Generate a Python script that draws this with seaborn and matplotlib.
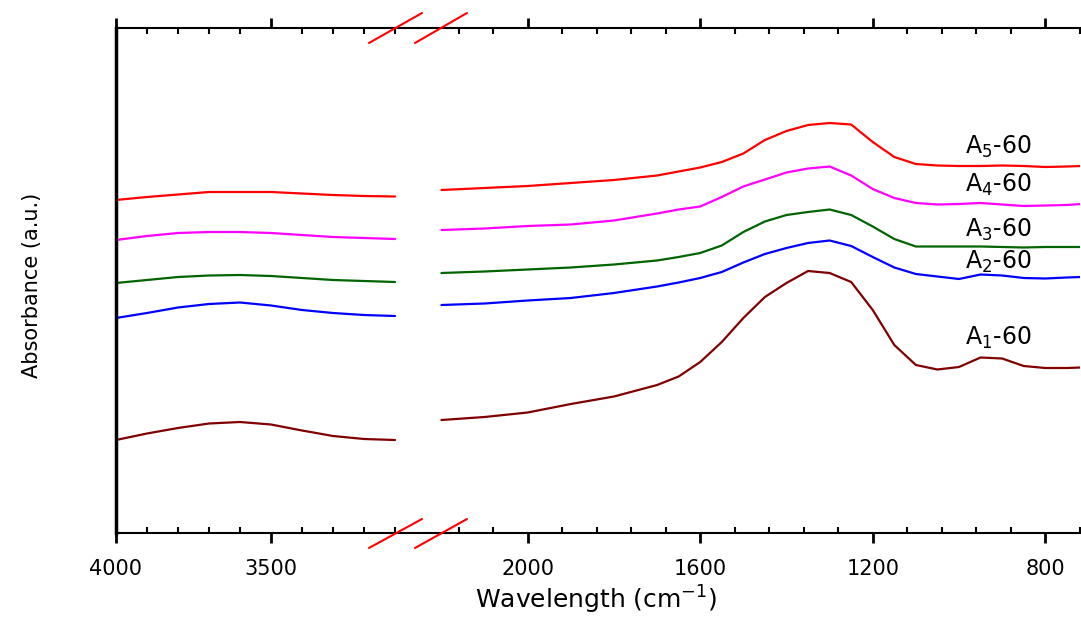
import numpy as np
import pandas as pd
import matplotlib
matplotlib.use('Agg')
from matplotlib import pyplot as plt
from matplotlib.lines import Line2D
from matplotlib.ticker import FixedLocator
import seaborn as sns

# samples and colours (bottom to top)
samples = ['A1-60', 'A2-60', 'A3-60', 'A4-60', 'A5-60']
labels = [r'A$_1$-60', r'A$_2$-60', r'A$_3$-60', r'A$_4$-60', r'A$_5$-60']
colors = ['#800000', '#0000FF', '#006400', '#FF00FF', '#FF0000']

# left segment (high wavenumber region)
wn_left = [4000, 3900, 3800, 3700, 3600, 3500, 3400, 3300, 3200, 3100]
a1_left = [0.93, 0.995, 1.05, 1.095, 1.11, 1.085, 1.025, 0.97, 0.94, 0.93]
a2_left = [2.15, 2.20, 2.255, 2.29, 2.305, 2.275, 2.23, 2.20, 2.18, 2.17]
a3_left = [2.50, 2.53, 2.56, 2.575, 2.58, 2.57, 2.55, 2.53, 2.52, 2.51]
a4_left = [2.93, 2.97, 3.00, 3.01, 3.01, 3.00, 2.98, 2.96, 2.95, 2.94]
a5_left = [3.33, 3.36, 3.385, 3.41, 3.41, 3.41, 3.395, 3.38, 3.37, 3.365]

# right segment (fingerprint region)
wn_right = [2200, 2100, 2000, 1900, 1800, 1700, 1650, 1600, 1550, 1500, 1450, 1400, 1350,
            1300, 1250, 1200, 1150, 1100, 1050, 1000, 950, 900, 850, 800, 750, 717]
a1_right = [1.13, 1.16, 1.205, 1.29, 1.365, 1.48, 1.565, 1.71, 1.91, 2.15, 2.36, 2.50, 2.62,
            2.60, 2.51, 2.23, 1.88, 1.68, 1.635, 1.66, 1.755, 1.745, 1.67, 1.65, 1.65, 1.655]
a2_right = [2.28, 2.295, 2.325, 2.35, 2.40, 2.465, 2.505, 2.55, 2.61, 2.705, 2.79, 2.85, 2.90,
            2.925, 2.87, 2.76, 2.655, 2.59, 2.565, 2.54, 2.585, 2.575, 2.55, 2.545, 2.555, 2.56]
a3_right = [2.60, 2.615, 2.635, 2.655, 2.685, 2.725, 2.76, 2.80, 2.875, 3.01, 3.115, 3.18, 3.21,
            3.235, 3.18, 3.065, 2.94, 2.865, 2.865, 2.865, 2.865, 2.86, 2.855, 2.86, 2.86, 2.86]
a4_right = [3.03, 3.045, 3.07, 3.085, 3.125, 3.195, 3.235, 3.265, 3.36, 3.465, 3.535, 3.605, 3.645,
            3.665, 3.575, 3.44, 3.35, 3.30, 3.285, 3.29, 3.30, 3.285, 3.27, 3.275, 3.28, 3.29]
a5_right = [3.43, 3.45, 3.47, 3.50, 3.53, 3.575, 3.615, 3.655, 3.71, 3.795, 3.93, 4.02, 4.08,
            4.10, 4.085, 3.91, 3.76, 3.69, 3.675, 3.67, 3.67, 3.675, 3.67, 3.66, 3.665, 3.67]


def to_long(wn, series):
    rows = []
    for name, vals in zip(samples, series):
        for w, v in zip(wn, vals):
            rows.append({'wn': w, 'absorbance': v, 'sample': name})
    return pd.DataFrame(rows)


df_left = to_long(wn_left, [a1_left, a2_left, a3_left, a4_left, a5_left])
df_right = to_long(wn_right, [a1_right, a2_right, a3_right, a4_right, a5_right])

sns.set_style('white')
plt.rcParams['font.family'] = ['DejaVu Sans']
plt.rcParams['text.color'] = 'black'
plt.rcParams['xtick.color'] = 'black'
plt.rcParams['axes.edgecolor'] = 'black'

W, H = 1081, 618
fig = plt.figure(figsize=(W / 100, H / 100), dpi=100)
ax1 = fig.add_axes([116 / W, 85 / H, (418 - 116) / W, 505 / H])
ax2 = fig.add_axes([418 / W, 85 / H, (1080 - 418) / W, 505 / H])

pal = dict(zip(samples, colors))
sns.lineplot(data=df_left, x='wn', y='absorbance', hue='sample', palette=pal,
             estimator=None, legend=False, ax=ax1, linewidth=1.6)
sns.lineplot(data=df_right, x='wn', y='absorbance', hue='sample', palette=pal,
             estimator=None, legend=False, ax=ax2, linewidth=1.6)

ax1.set_xlim(4000, 4000 - 302 / 0.31)
ax2.set_xlim(2000 + (527.7 - 418) / 0.4313, 2000 - (1080 - 527.7) / 0.4313)

ax1.set_xticks([4000, 3500])
ax1.xaxis.set_minor_locator(FixedLocator(list(range(3900, 3050, -100))))
ax2.set_xticks([2000, 1600, 1200, 800])
ax2.xaxis.set_minor_locator(FixedLocator(list(range(2160, 715, -80))))

for ax in (ax1, ax2):
    ax.set_ylim(0, 5.05)
    ax.set_yticks([])
    ax.set_xlabel('')
    ax.set_ylabel('')
    ax.patch.set_alpha(0)
    ax.tick_params(axis='x', which='major', direction='out', length=7, width=2,
                   top=True, bottom=True, labelsize=15, pad=12, colors='black')
    ax.tick_params(axis='x', which='minor', direction='in', length=4, width=1.5,
                   top=True, bottom=True, colors='black')
    for side in ('top', 'bottom'):
        ax.spines[side].set_linewidth(1.5)
        ax.spines[side].set_color('black')
    ax.spines['right'].set_visible(False)

ax1.spines['left'].set_linewidth(2.5)
ax1.spines['left'].set_color('black')
ax2.spines['left'].set_visible(False)

# sample labels
label_y = [1.95, 2.71, 3.03, 3.48, 3.86]
for lab, yv in zip(labels, label_y):
    ax2.text(986, yv, lab, ha='left', va='center', fontsize=17, color='black')

# axis break marks
for (x1, y1, x2, y2) in [(369, 43, 422, 13), (415, 43, 467, 13),
                         (369, 548, 422, 519), (415, 548, 467, 519)]:
    fig.add_artist(Line2D([x1 / W, x2 / W], [1 - y1 / H, 1 - y2 / H],
                          transform=fig.transFigure, color='red', lw=1.5))

fig.text(596 / W, 1 - 600 / H, r'Wavelength (cm$^{-1}$)', ha='center', va='center',
         fontsize=18, color='black')
fig.text(32 / W, 1 - 285 / H, 'Absorbance (a.u.)', ha='center', va='center',
         rotation=90, fontsize=15, color='black')

fig.savefig('out.png', dpi=100)
